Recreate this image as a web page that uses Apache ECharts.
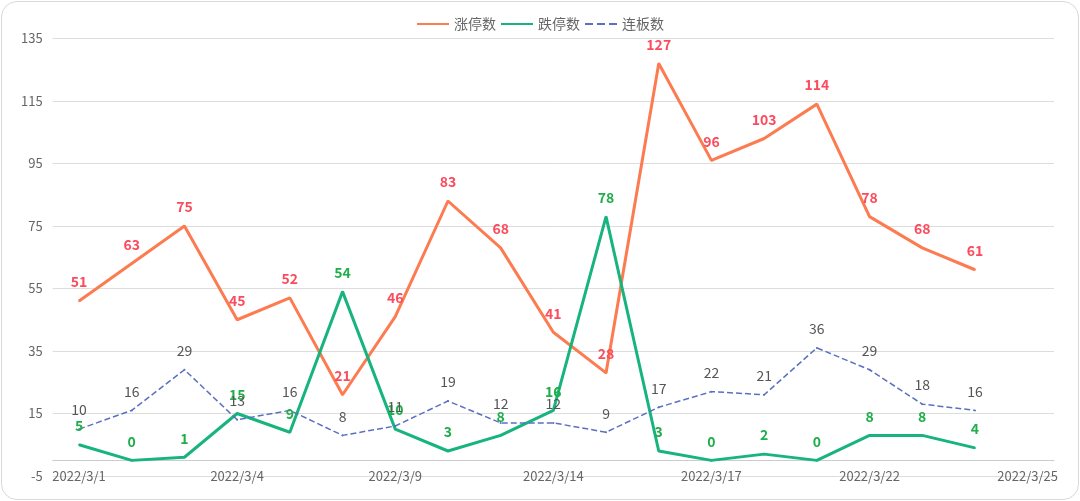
<!DOCTYPE html>
<html>
<head>
<meta charset="utf-8">
<script src="https://cdn.jsdelivr.net/npm/echarts@6/dist/echarts.min.js"></script>
<style>
html,body{margin:0;padding:0;background:#fff;}
#wrap{position:relative;width:1080px;height:501px;}
#chart{position:absolute;left:0;top:0;width:1080px;height:501px;}
#frame{position:absolute;left:1px;top:1px;width:1076px;height:497px;border:1px solid #d9d9d9;border-radius:16px;pointer-events:none;}
</style>
</head>
<body>
<div id="wrap"><div id="chart"></div><div id="frame"></div></div>
<script>
const categories = ['2022/3/1','2022/3/2','2022/3/3','2022/3/4','2022/3/7','2022/3/8','2022/3/9','2022/3/10','2022/3/11','2022/3/14','2022/3/15','2022/3/16','2022/3/17','2022/3/18','2022/3/21','2022/3/22','2022/3/23','2022/3/24','2022/3/25'];
const limitUp = [51, 63, 75, 45, 52, 21, 46, 83, 68, 41, 28, 127, 96, 103, 114, 78, 68, 61];
const limitDown = [5, 0, 1, 15, 9, 54, 10, 3, 8, 16, 78, 3, 0, 2, 0, 8, 8, 4];
const consecutive = [10, 16, 29, 13, 16, 8, 11, 19, 12, 12, 9, 17, 22, 21, 36, 29, 18, 16];

const font = "'Noto Sans CJK SC', 'Noto Sans', sans-serif";
const chart = echarts.init(document.getElementById('chart'));
chart.setOption({
  animation: false,
  textStyle: { fontFamily: font },
  legend: {
    top: 12, left: 'center', itemWidth: 32, itemHeight: 12, itemGap: 4,
    itemStyle: { opacity: 0 },
    textStyle: { fontSize: 14, color: '#666', fontFamily: font },
    data: ['涨停数', '跌停数', '连板数']
  },
  grid: { left: 52.7, right: 26, top: 38.5, bottom: 25, outerBoundsMode: 'none', containLabel: false },
  xAxis: {
    type: 'category', data: categories, boundaryGap: true,
    axisLine: { onZero: true, lineStyle: { color: '#ccc' } },
    axisTick: { interval: 0, lineStyle: { color: '#ccc' } },
    axisLabel: { interval: 2, color: '#666', fontSize: 13, margin: -6, fontFamily: font }
  },
  yAxis: {
    type: 'value', min: -5, max: 135, interval: 20,
    axisLine: { show: false }, axisTick: { show: false },
    axisLabel: { color: '#666', fontSize: 13, margin: 10, fontFamily: font },
    splitLine: { lineStyle: { color: '#ddd' } }
  },
  series: [
    {
      name: '涨停数', type: 'line', data: limitUp,
      symbol: 'circle', symbolSize: 2,
      itemStyle: { color: '#fd7b50' },
      lineStyle: { width: 3, color: '#fd7b50' },
      label: { show: true, position: 'top', distance: 11, color: '#fb4c5e', fontWeight: 'bold', fontSize: 14, fontFamily: font }
    },
    {
      name: '跌停数', type: 'line', data: limitDown,
      symbol: 'circle', symbolSize: 2,
      itemStyle: { color: '#17b47d' },
      lineStyle: { width: 3, color: '#17b47d' },
      label: { show: true, position: 'top', distance: 11, color: '#1fae4b', fontWeight: 'bold', fontSize: 14, fontFamily: font }
    },
    {
      name: '连板数', type: 'line', data: consecutive,
      symbol: 'circle', symbolSize: 2,
      itemStyle: { color: '#5b70c0' },
      lineStyle: { width: 1.5, type: 'dashed', color: '#5b70c0' },
      label: { show: true, position: 'top', distance: 11, color: '#555', fontSize: 14, fontFamily: font }
    }
  ]
});
</script>
</body>
</html>
